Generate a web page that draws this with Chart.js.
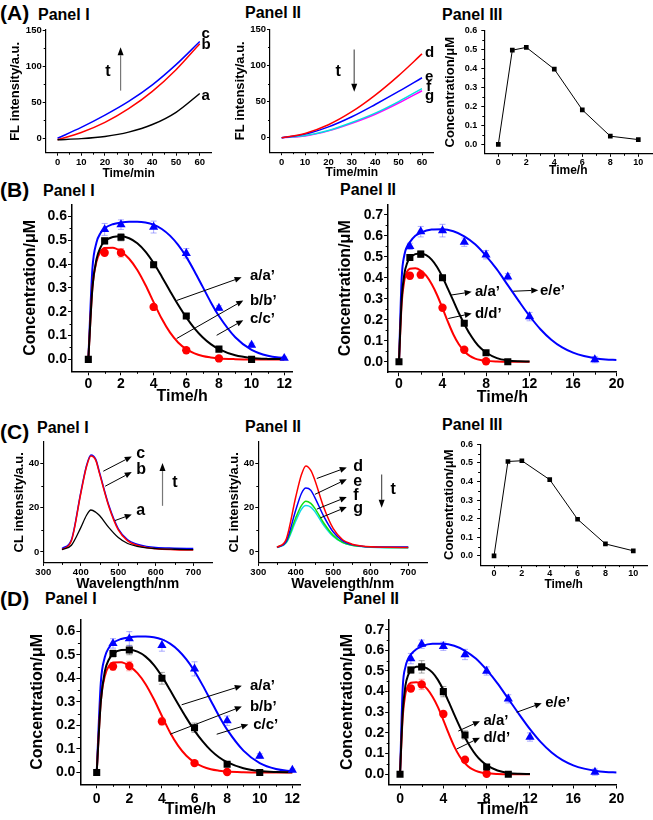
<!DOCTYPE html>
<html>
<head>
<meta charset="utf-8">
<script src="https://cdn.jsdelivr.net/npm/chart.js@4.4.1/dist/chart.umd.min.js"></script>
<style>
  body { margin: 0; background: #fff; width: 653px; height: 820px; position: relative; overflow: hidden;
         font-family: 'Liberation Sans', Arial, sans-serif; }
  .box { position: absolute; }
  .lbl { position: absolute; font-weight: bold; white-space: nowrap; line-height: 1; transform: translateY(-50%); color: #000; }
</style>
</head>
<body>
<div class="lbl" style="left:0;top:12px;font-size:21px">(A)</div>
<div class="lbl" style="left:38px;top:15px;font-size:16px">Panel I</div>
<div class="lbl" style="left:245px;top:13px;font-size:16px">Panel II</div>
<div class="lbl" style="left:442px;top:15px;font-size:16px">Panel III</div>
<div class="lbl" style="left:0;top:189px;font-size:21px">(B)</div>
<div class="lbl" style="left:43px;top:191px;font-size:16px">Panel I</div>
<div class="lbl" style="left:340px;top:190px;font-size:16px">Panel II</div>
<div class="lbl" style="left:0;top:431px;font-size:21px">(C)</div>
<div class="lbl" style="left:37px;top:428px;font-size:16px">Panel I</div>
<div class="lbl" style="left:245px;top:427px;font-size:16px">Panel II</div>
<div class="lbl" style="left:442px;top:425px;font-size:16px">Panel III</div>
<div class="lbl" style="left:0;top:598px;font-size:21px">(D)</div>
<div class="lbl" style="left:45px;top:599px;font-size:16px">Panel I</div>
<div class="lbl" style="left:343px;top:599px;font-size:16px">Panel II</div>

<script>
// ---- (A) fluorescence intensity vs time ----
const tMin = [0, 10, 20, 30, 40, 50, 60];
const flA = [-2, -0.5, 2.5, 8.5, 19, 36, 62];
const flB = [-2, 8, 22, 41, 65, 95, 131];
const flC = [0, 15, 32, 51, 74, 102, 134];
const flD = [0, 6, 18, 36, 59, 86, 116];
const flE = [0, 5, 15, 29, 46, 64, 83];
const flF = [0, 3, 10, 21, 34, 50, 68];
const flG = [0, 2.5, 9.5, 20, 32.5, 48, 65];

// ---- Panel III concentration profiles ----
const tH = [0, 1, 2, 4, 6, 8, 10];
const concA3 = [0, 0.497, 0.512, 0.397, 0.182, 0.043, 0.025];
const concC3 = [0, 0.508, 0.512, 0.41, 0.197, 0.064, 0.027];

// ---- (B)/(D) measured points ----
const tBlack = [0, 1, 2, 4, 6, 8, 10];
const tRed = [1, 2, 4, 6, 8];
const tBlue1 = [1, 2, 4, 6, 8, 10, 12];
const tBlue2 = [1, 2, 4, 6, 8, 10, 12, 18];

const bIBlack = [0, 0.497, 0.512, 0.397, 0.182, 0.043, 0];
const bIBlackErr = [0, 0.012, 0.015, 0.012, 0.01, 0.005, 0.004];
const bIRed = [0.447, 0.447, 0.22, 0.038, 0.004];
const bIRedErr = [0.012, 0.018, 0.01, 0.008, 0.004];
const bIBlue = [0.545, 0.565, 0.555, 0.445, 0.215, 0.06, 0.005];
const bIBlueErr = [0.025, 0.02, 0.025, 0.02, 0.01, 0.008, 0.005];

const bIIBlack = [0, 0.497, 0.513, 0.4, 0.183, 0.043, 0];
const bIIBlackErr = [0, 0.012, 0.015, 0.012, 0.01, 0.005, 0.004];
const bIIRed = [0.41, 0.415, 0.257, 0.057, 0.002];
const bIIRedErr = [0.015, 0.018, 0.01, 0.008, 0.004];
const bIIBlue = [0.55, 0.62, 0.625, 0.57, 0.51, 0.405, 0.215, 0.01];
const bIIBlueErr = [0.015, 0.025, 0.03, 0.02, 0.02, 0.015, 0.02, 0.015];

const dIBlack = [0, 0.505, 0.52, 0.4, 0.19, 0.035, 0];
const dIBlackErr = [0, 0.015, 0.02, 0.025, 0.02, 0.01, 0.004];
const dIRed = [0.45, 0.452, 0.217, 0.04, 0.002];
const dIRedErr = [0.015, 0.02, 0.015, 0.01, 0.005];
const dIBlue = [0.548, 0.568, 0.54, 0.44, 0.22, 0.07, 0.01];
const dIBlueErr = [0.02, 0.03, 0.025, 0.03, 0.02, 0.01, 0.005];

const dIIBlack = [0, 0.505, 0.52, 0.4, 0.19, 0.035, 0];
const dIIBlackErr = [0, 0.015, 0.03, 0.025, 0.02, 0.01, 0.004];
const dIIRed = [0.415, 0.435, 0.292, 0.07, 0.002];
const dIIRedErr = [0.015, 0.025, 0.015, 0.01, 0.005];
const dIIBlue = [0.56, 0.63, 0.62, 0.58, 0.5, 0.365, 0.18, 0.01];
const dIIBlueErr = [0.025, 0.02, 0.02, 0.025, 0.02, 0.02, 0.02, 0.015];

// ---- (B)/(D) fitted curves ----
const tFit = [0, 0.25, 0.5, 0.75, 1, 1.5, 2, 2.5, 3, 3.5, 4, 4.5, 5, 5.5, 6, 6.5, 7, 7.5, 8, 9, 10, 11, 12];
const tFitLong = [0, 0.25, 0.5, 0.75, 1, 1.5, 2, 3, 4, 5, 6, 7, 8, 9, 10, 11, 12, 13, 14, 15, 16, 17, 18, 19, 20];

const fitBIBlack = [0, 0.30, 0.42, 0.47, 0.495, 0.513, 0.516, 0.508, 0.487, 0.452, 0.404, 0.347, 0.287, 0.229, 0.176, 0.130, 0.093, 0.064, 0.043, 0.017, 0.006, 0.002, 0.001];
const fitBIRed = [0, 0.30, 0.41, 0.452, 0.467, 0.468, 0.452, 0.422, 0.375, 0.312, 0.240, 0.170, 0.113, 0.071, 0.043, 0.025, 0.014, 0.008, 0.004, 0.001, 0, 0, 0];
const fitBIBlue = [0, 0.38, 0.49, 0.53, 0.55, 0.567, 0.574, 0.577, 0.577, 0.574, 0.565, 0.547, 0.519, 0.480, 0.430, 0.370, 0.305, 0.240, 0.182, 0.093, 0.040, 0.015, 0.005];

const fitBIIBlack = [0, 0.30, 0.42, 0.47, 0.495, 0.513, 0.516, 0.508, 0.487, 0.452, 0.404, 0.347, 0.290, 0.232, 0.180, 0.133, 0.095, 0.065, 0.044, 0.017, 0.006, 0.002, 0.001];
const fitBIIRed = [0, 0.28, 0.39, 0.43, 0.443, 0.446, 0.435, 0.41, 0.37, 0.318, 0.255, 0.19, 0.13, 0.083, 0.05, 0.028, 0.015, 0.008, 0.004, 0.001, 0, 0, 0];
const fitBIIBlue = [0, 0.40, 0.51, 0.55, 0.57, 0.60, 0.615, 0.63, 0.632, 0.622, 0.598, 0.56, 0.505, 0.44, 0.365, 0.29, 0.218, 0.155, 0.105, 0.068, 0.043, 0.027, 0.017, 0.011, 0.008];

const fitDIBlack = [0, 0.30, 0.43, 0.48, 0.503, 0.52, 0.521, 0.513, 0.492, 0.457, 0.408, 0.35, 0.29, 0.232, 0.178, 0.132, 0.094, 0.065, 0.044, 0.018, 0.006, 0.002, 0.001];
const fitDIRed = [0, 0.30, 0.41, 0.452, 0.467, 0.468, 0.452, 0.422, 0.375, 0.312, 0.240, 0.170, 0.113, 0.071, 0.043, 0.025, 0.014, 0.008, 0.004, 0.001, 0, 0, 0];
const fitDIBlue = [0, 0.38, 0.49, 0.53, 0.55, 0.567, 0.574, 0.577, 0.577, 0.574, 0.565, 0.547, 0.519, 0.480, 0.430, 0.370, 0.305, 0.240, 0.182, 0.093, 0.040, 0.015, 0.005];

const fitDIIBlack = [0, 0.30, 0.43, 0.48, 0.503, 0.52, 0.521, 0.513, 0.492, 0.457, 0.408, 0.35, 0.29, 0.232, 0.178, 0.132, 0.094, 0.065, 0.044, 0.018, 0.006, 0.002, 0.001];
const fitDIIRed = [0, 0.28, 0.39, 0.43, 0.443, 0.446, 0.437, 0.413, 0.375, 0.325, 0.262, 0.196, 0.135, 0.087, 0.052, 0.029, 0.016, 0.008, 0.004, 0.001, 0, 0, 0];
const fitDIIBlue = [0, 0.42, 0.52, 0.56, 0.58, 0.605, 0.62, 0.632, 0.632, 0.622, 0.598, 0.56, 0.505, 0.44, 0.365, 0.29, 0.218, 0.155, 0.105, 0.068, 0.043, 0.027, 0.017, 0.011, 0.008];

// ---- (C) chemiluminescence spectra ----
const wl = [350, 375, 400, 415, 427, 440, 450, 475, 500, 525, 550, 575, 600, 650, 700];
const clA = [1, 3, 11, 16.5, 19, 18, 16.5, 11, 6.5, 3.8, 2.5, 1.8, 1.5, 1.2, 1];
const clB = [1, 5, 26.5, 38.5, 43.5, 41.5, 35.5, 20.5, 10, 5, 3, 2, 1.4, 1, 0.8];
const clC = [1.5, 5.5, 27, 39, 44, 42, 36, 21, 10.5, 5.5, 3.5, 2.5, 2, 1.7, 1.5];
const clD = [2, 6, 25, 35, 39, 37, 33, 20, 10.5, 5.5, 3.5, 2.7, 2.3, 2.1, 2];
const clE = [2, 5, 19, 26.5, 29, 28, 25, 16, 9, 5, 3.3, 2.6, 2.3, 2.2, 2.2];
const clF = [2, 4.5, 15.5, 21, 23, 22, 20, 13, 7.5, 4.3, 3, 2.5, 2.2, 2, 2];
const clG = [2, 4.2, 14, 19.3, 21, 20.3, 18.5, 12, 7, 4.2, 3, 2.4, 2.1, 1.9, 1.8];

// ---- tick labels ----
const ticksMin = [0, 10, 20, 30, 40, 50, 60];
const ticksFL = [0, 50, 100, 150];
const ticksH10 = [0, 2, 4, 6, 8, 10];
const ticksH12 = [0, 2, 4, 6, 8, 10, 12];
const ticksH20 = [0, 4, 8, 12, 16, 20];
const ticksC6 = [0, 0.1, 0.2, 0.3, 0.4, 0.5, 0.6];
const ticksC7 = [0, 0.1, 0.2, 0.3, 0.4, 0.5, 0.6, 0.7];
const ticksWl = [300, 400, 500, 600, 700];
const ticksCL = [0, 20, 40];

const FONT = "'Liberation Sans', Arial, sans-serif";
const RED = '#ff0000', BLUE = '#0000ff', BLACK = '#000000';

const xy = (xs, ys) => xs.map((x, i) => ({ x, y: ys[i] }));

function curve(xs, ys, color, width) {
    return {
        data: xy(xs, ys), showLine: true, borderColor: color, borderWidth: width,
        pointRadius: 0, cubicInterpolationMode: 'monotone', order: 2
    };
}

function dots(xs, ys, color, style, r, err, errColor) {
    return {
        data: xy(xs, ys), showLine: false, pointStyle: style, pointRadius: r,
        pointBackgroundColor: color, pointBorderColor: color, pointBorderWidth: 0,
        err, errColor, order: 1
    };
}

function polyline(xs, ys) {
    return {
        data: xy(xs, ys), showLine: true, borderColor: '#000', borderWidth: 1, tension: 0,
        pointStyle: 'rect', pointRadius: 3.3, pointBackgroundColor: '#000', pointBorderWidth: 0
    };
}

function drawArrow(ctx, x, y, a) {
    const x1 = x.getPixelForValue(a.from[0]), y1 = y.getPixelForValue(a.from[1]);
    const x2 = x.getPixelForValue(a.to[0]), y2 = y.getPixelForValue(a.to[1]);
    const ang = Math.atan2(y2 - y1, x2 - x1);
    const hl = a.head || 7, hw = 3;
    const bx = x2 - hl * Math.cos(ang), by = y2 - hl * Math.sin(ang);
    ctx.strokeStyle = a.color || '#000';
    ctx.lineWidth = a.width || 1;
    ctx.beginPath();
    ctx.moveTo(x1, y1);
    ctx.lineTo(bx, by);
    ctx.stroke();
    ctx.fillStyle = '#000';
    ctx.beginPath();
    ctx.moveTo(x2, y2);
    ctx.lineTo(bx + hw * Math.sin(ang), by - hw * Math.cos(ang));
    ctx.lineTo(bx - hw * Math.sin(ang), by + hw * Math.cos(ang));
    ctx.closePath();
    ctx.fill();
}

function extrasPlugin(cfg) {
    return {
        id: 'extras',
        beforeDatasetsDraw(chart) {
            const { ctx, scales: { x, y } } = chart;
            ctx.save();
            chart.data.datasets.forEach(ds => {
                if (!ds.err) return;
                ctx.strokeStyle = ds.errColor;
                ctx.lineWidth = 1;
                ds.data.forEach((p, i) => {
                    const e = ds.err[i];
                    if (!e) return;
                    const px = x.getPixelForValue(p.x);
                    const y1 = y.getPixelForValue(p.y + e), y2 = y.getPixelForValue(p.y - e);
                    ctx.beginPath();
                    ctx.moveTo(px, y1); ctx.lineTo(px, y2);
                    ctx.moveTo(px - 3, y1); ctx.lineTo(px + 3, y1);
                    ctx.moveTo(px - 3, y2); ctx.lineTo(px + 3, y2);
                    ctx.stroke();
                });
            });
            ctx.restore();
        },
        afterDraw(chart) {
            const { ctx, chartArea: a, scales: { x, y } } = chart;
            ctx.save();
            // minor ticks halfway between the labelled ones
            const mids = t => t.slice(1).map((v, i) => (v + t[i]) / 2);
            ctx.strokeStyle = '#000';
            ctx.lineWidth = 1;
            ctx.beginPath();
            mids(cfg.xTicks).forEach(v => {
                const p = Math.round(x.getPixelForValue(v)) + 0.5;
                ctx.moveTo(p, a.bottom); ctx.lineTo(p, a.bottom + cfg.minorLen);
            });
            mids(cfg.yTicks).forEach(v => {
                const p = Math.round(y.getPixelForValue(v)) + 0.5;
                ctx.moveTo(a.left, p); ctx.lineTo(a.left - cfg.minorLen, p);
            });
            ctx.stroke();

            (cfg.arrows || []).forEach(ar => drawArrow(ctx, x, y, ar));

            ctx.fillStyle = '#000';
            ctx.textBaseline = 'middle';
            (cfg.notes || []).forEach(n => {
                ctx.font = `bold ${n.size}px ${FONT}`;
                ctx.textAlign = n.align || 'left';
                ctx.fillText(n.text, x.getPixelForValue(n.x), y.getPixelForValue(n.y));
            });
            ctx.restore();
        }
    };
}

function plot(cfg) {
    const [bx, by, bw, bh] = cfg.box;
    const [L, T, R, B] = cfg.area;
    const wrap = document.createElement('div');
    wrap.className = 'box';
    wrap.style.cssText = `left:${bx}px;top:${by}px;width:${bw}px;height:${bh}px`;
    const cv = document.createElement('canvas');
    cv.width = bw;
    cv.height = bh;
    wrap.appendChild(cv);
    document.body.appendChild(wrap);

    const bold = s => ({ family: FONT, size: s, weight: 'bold' });
    const lh = cfg.titleSize * 1.2;
    const lhY = (cfg.yTitleSize || cfg.titleSize) * 1.2;

    new Chart(cv, {
        type: 'scatter',
        data: { datasets: cfg.datasets },
        options: {
            responsive: false,
            animation: false,
            events: [],
            layout: { padding: { left: 0, top: T - by, right: bx + bw - R, bottom: 0 }, autoPadding: false },
            plugins: { legend: { display: false }, tooltip: { enabled: false } },
            scales: {
                x: {
                    type: 'linear', min: cfg.xRange[0], max: cfg.xRange[1],
                    afterBuildTicks: s => { s.ticks = cfg.xTicks.map(v => ({ value: v })); },
                    afterFit: s => { s.height = by + bh - B; },
                    border: { color: '#000', width: cfg.axisWidth },
                    grid: { drawOnChartArea: false, color: '#000', tickLength: cfg.tickLen, lineWidth: 1 },
                    ticks: {
                        color: '#000', font: bold(cfg.tickSize), padding: cfg.xPad ?? 1,
                        maxRotation: 0, autoSkip: false, callback: v => v.toFixed(cfg.xDigits || 0)
                    },
                    title: {
                        display: true, text: cfg.xTitle, color: '#000', font: bold(cfg.titleSize),
                        padding: { top: 0, bottom: bh - (cfg.xTitleY - by) - lh / 2 }
                    }
                },
                y: {
                    type: 'linear', min: cfg.yRange[0], max: cfg.yRange[1],
                    afterBuildTicks: s => { s.ticks = cfg.yTicks.map(v => ({ value: v })); },
                    afterFit: s => { s.width = L - bx; },
                    border: { color: '#000', width: cfg.axisWidth },
                    grid: { drawOnChartArea: false, color: '#000', tickLength: cfg.tickLen, lineWidth: 1 },
                    ticks: {
                        color: '#000', font: bold(cfg.tickSize), padding: cfg.yPad ?? 1,
                        autoSkip: false, callback: v => v.toFixed(cfg.yDigits || 0)
                    },
                    title: {
                        display: true, text: cfg.yTitle, color: '#000', font: bold(cfg.yTitleSize || cfg.titleSize),
                        padding: { top: cfg.yTitleX - bx - lhY / 2, bottom: 0 }
                    }
                }
            }
        },
        plugins: [extrasPlugin(cfg)]
    });
}

// shared looks
const small = { tickSize: 9.5, titleSize: 12, yTitleSize: 13, tickLen: 3, minorLen: 2, axisWidth: 1.2 };
const large = { tickSize: 14, titleSize: 16, tickLen: 4, minorLen: 2.5, axisWidth: 1.5 };
const tArrow = { color: '#777', width: 1.2, head: 8 };

// (A) Panel I
plot({
    ...small, box: [0, 20, 215, 170], area: [45.7, 30, 211.6, 152.7],
    xRange: [-5, 65], yRange: [-20, 150], xTicks: ticksMin, yTicks: ticksFL,
    xTitle: 'Time/min', yTitle: 'FL intensity/a.u.', xTitleY: 174, yTitleX: 15,
    datasets: [
        curve(tMin, flA, BLACK, 1.5), curve(tMin, flB, RED, 1.5), curve(tMin, flC, BLUE, 1.5)
    ],
    arrows: [{ ...tArrow, from: [26.6, 66], to: [26.6, 126] }],
    notes: [
        { text: 't', x: 21.3, y: 92, size: 16, align: 'center' },
        { text: 'c', x: 60.7, y: 145, size: 15 },
        { text: 'b', x: 60.7, y: 129, size: 15 },
        { text: 'a', x: 60.7, y: 59, size: 15 }
    ]
});

// (A) Panel II
plot({
    ...small, box: [215, 20, 232, 170], area: [270, 29.3, 433.7, 152.2],
    xRange: [-5, 65], yRange: [-20, 150], xTicks: ticksMin, yTicks: ticksFL,
    xTitle: 'Time/min', yTitle: 'FL intensity/a.u.', xTitleY: 173, yTitleX: 240,
    datasets: [
        curve(tMin, flD, RED, 1.5), curve(tMin, flE, BLUE, 1.5),
        curve(tMin, flF, '#00e0e0', 1.5), curve(tMin, flG, '#ff00ff', 1.5)
    ],
    arrows: [{ ...tArrow, color: '#555', from: [31, 122], to: [31, 63.6] }],
    notes: [
        { text: 't', x: 24.2, y: 91.3, size: 16, align: 'center' },
        { text: 'd', x: 61.3, y: 116.8, size: 15 },
        { text: 'e', x: 61.3, y: 84, size: 15 },
        { text: 'f', x: 61.8, y: 70.5, size: 15 },
        { text: 'g', x: 61.3, y: 58, size: 15 }
    ]
});

// (A) Panel III
plot({
    ...small, box: [430, 20, 223, 170], area: [484.3, 30.7, 652.3, 153.8],
    xRange: [-1, 11], yRange: [-0.05, 0.6], xTicks: ticksH10, yTicks: ticksC6, yDigits: 1,
    tickSize: 9, yPad: 4, xPad: 0, xTitle: 'Time/h', yTitle: 'Concentration/\u03bcM', xTitleY: 171, yTitleX: 450.5,
    datasets: [polyline(tH, concA3)]
});

// (B) Panel I
plot({
    ...large, box: [0, 195, 320, 215], area: [72, 203.3, 292.4, 371.3],
    xRange: [-1, 12.5], yRange: [-0.05, 0.65], xTicks: ticksH12, yTicks: ticksC6, yDigits: 1,
    xTitle: 'Time/h', yTitle: 'Concentration/\u03bcM', xTitleY: 397, yTitleX: 31, xPad: 0,
    datasets: [
        dots(tBlack, bIBlack, BLACK, 'rect', 5, bIBlackErr, 'rgba(0,0,0,0.35)'),
        dots(tRed, bIRed, RED, 'circle', 4.2, bIRedErr, 'rgba(255,60,60,0.45)'),
        dots(tBlue1, bIBlue, BLUE, 'triangle', 5.3, bIBlueErr, 'rgba(90,90,255,0.5)'),
        curve(tFit, fitBIBlack, BLACK, 2), curve(tFit, fitBIRed, RED, 2), curve(tFit, fitBIBlue, BLUE, 2)
    ],
    arrows: [
        { from: [5.41, 0.247], to: [9.39, 0.344] },
        { from: [5.41, 0.0875], to: [9.49, 0.247] },
        { from: [7.86, 0.101], to: [9.49, 0.164] }
    ],
    notes: [
        { text: 'a/a\u2019', x: 9.9, y: 0.351, size: 15 },
        { text: 'b/b\u2019', x: 9.9, y: 0.247, size: 15 },
        { text: 'c/c\u2019', x: 9.9, y: 0.171, size: 15 }
    ]
});

// (B) Panel II
plot({
    ...large, box: [320, 195, 333, 215], area: [388.1, 203.8, 616.6, 372.2],
    xRange: [-1, 20], yRange: [-0.05, 0.75], xTicks: ticksH20, yTicks: ticksC7, yDigits: 1,
    xTitle: 'Time/h', yTitle: 'Concentration/\u03bcM', xTitleY: 398, yTitleX: 345.5, xPad: 0,
    datasets: [
        dots(tBlack, bIIBlack, BLACK, 'rect', 5, bIIBlackErr, 'rgba(0,0,0,0.35)'),
        dots(tRed, bIIRed, RED, 'circle', 4.2, bIIRedErr, 'rgba(255,60,60,0.45)'),
        dots(tBlue2, bIIBlue, BLUE, 'triangle', 5.3, bIIBlueErr, 'rgba(90,90,255,0.5)'),
        curve(tFit, fitBIIBlack, BLACK, 2), curve(tFit, fitBIIRed, RED, 2), curve(tFitLong, fitBIIBlue, BLUE, 2)
    ],
    arrows: [
        { from: [4.69, 0.317], to: [6.68, 0.333] },
        { from: [4.53, 0.206], to: [6.68, 0.23] },
        { from: [10.5, 0.336], to: [12.8, 0.341] }
    ],
    notes: [
        { text: 'a/a\u2019', x: 6.98, y: 0.333, size: 15 },
        { text: 'd/d\u2019', x: 6.98, y: 0.23, size: 15 },
        { text: 'e/e\u2019', x: 12.96, y: 0.34, size: 15 }
    ]
});

// (C) Panel I
plot({
    ...small, box: [0, 435, 215, 165], area: [43.3, 440, 212, 562.9],
    xRange: [300, 750], yRange: [-5, 50], xTicks: ticksWl, yTicks: ticksCL,
    tickSize: 9.5, titleSize: 14, yTitleSize: 13,
    xTitle: 'Wavelength/nm', yTitle: 'CL intensity/a.u.', xTitleY: 584, yTitleX: 19,
    datasets: [curve(wl, clA, BLACK, 1.3), curve(wl, clB, RED, 1.5), curve(wl, clC, BLUE, 1.5)],
    arrows: [
        { from: [460, 36.6], to: [536, 43.3] },
        { from: [465, 29.8], to: [536, 36.2] },
        { from: [491, 14.2], to: [536, 17] },
        { ...tArrow, from: [618, 20.9], to: [618, 40.3] }
    ],
    notes: [
        { text: 'c', x: 548, y: 44.7, size: 16 },
        { text: 'b', x: 548, y: 37.3, size: 16 },
        { text: 'a', x: 548, y: 18.6, size: 16 },
        { text: 't', x: 651, y: 31.3, size: 16, align: 'center' }
    ]
});

// (C) Panel II
plot({
    ...small, box: [215, 435, 225, 165], area: [258.3, 440, 427, 562.9],
    xRange: [300, 750], yRange: [-5, 50], xTicks: ticksWl, yTicks: ticksCL,
    tickSize: 9.5, titleSize: 14, yTitleSize: 13,
    xTitle: 'Wavelength/nm', yTitle: 'CL intensity/a.u.', xTitleY: 584, yTitleX: 234,
    datasets: [
        curve(wl, clD, RED, 1.5), curve(wl, clE, BLUE, 1.5),
        curve(wl, clF, '#10e010', 1.5), curve(wl, clG, '#10d8e8', 1.5)
    ],
    arrows: [
        { from: [456, 33.3], to: [536, 38.3] },
        { from: [451, 26.1], to: [536, 33] },
        { from: [456, 19.4], to: [536, 24.9] },
        { from: [465, 15.4], to: [536, 20.4] },
        { ...tArrow, color: '#555', from: [629, 35.1], to: [629, 20] }
    ],
    notes: [
        { text: 'd', x: 553, y: 38.8, size: 16 },
        { text: 'e', x: 553, y: 32.1, size: 16 },
        { text: 'f', x: 553, y: 25.4, size: 16 },
        { text: 'g', x: 553, y: 19.5, size: 16 },
        { text: 't', x: 660, y: 28.3, size: 16, align: 'center' }
    ]
});

// (C) Panel III
plot({
    ...small, box: [430, 435, 223, 165], area: [480.1, 442.7, 647.2, 565.1],
    xRange: [-1, 11], yRange: [-0.05, 0.6], xTicks: ticksH10, yTicks: ticksC6, yDigits: 1,
    tickSize: 9, yPad: 4, xPad: 0, xTitle: 'Time/h', yTitle: 'Concentration/\u03bcM', xTitleY: 585, yTitleX: 449,
    datasets: [polyline(tH, concC3)]
});

// (D) Panel I
plot({
    ...large, box: [0, 610, 320, 210], area: [80.4, 616.3, 300.5, 784.3],
    xRange: [-1, 12.5], yRange: [-0.05, 0.65], xTicks: ticksH12, yTicks: ticksC6, yDigits: 1,
    xTitle: 'Time/h', yTitle: 'Concentration/\u03bcM', xTitleY: 810, yTitleX: 37.5, xPad: 2,
    datasets: [
        dots(tBlack, dIBlack, BLACK, 'rect', 5, dIBlackErr, 'rgba(0,0,0,0.35)'),
        dots(tRed, dIRed, RED, 'circle', 4.2, dIRedErr, 'rgba(255,60,60,0.45)'),
        dots(tBlue1, dIBlue, BLUE, 'triangle', 5.3, dIBlueErr, 'rgba(90,90,255,0.5)'),
        curve(tFit, fitDIBlack, BLACK, 2), curve(tFit, fitDIRed, RED, 2), curve(tFit, fitDIBlue, BLUE, 2)
    ],
    arrows: [
        { from: [5.21, 0.2875], to: [8.9, 0.368] },
        { from: [4.5, 0.1625], to: [8.9, 0.28] },
        { from: [7.36, 0.1625], to: [9.3, 0.204] }
    ],
    notes: [
        { text: 'a/a\u2019', x: 9.4, y: 0.368, size: 15 },
        { text: 'b/b\u2019', x: 9.4, y: 0.28, size: 15 },
        { text: 'c/c\u2019', x: 9.6, y: 0.204, size: 15 }
    ]
});

// (D) Panel II
plot({
    ...large, box: [320, 610, 333, 210], area: [389.2, 616.6, 616.6, 784.5],
    xRange: [-1, 20], yRange: [-0.05, 0.75], xTicks: ticksH20, yTicks: ticksC7, yDigits: 1,
    xTitle: 'Time/h', yTitle: 'Concentration/\u03bcM', xTitleY: 810, yTitleX: 348, xPad: 2,
    datasets: [
        dots(tBlack, dIIBlack, BLACK, 'rect', 5, dIIBlackErr, 'rgba(0,0,0,0.35)'),
        dots(tRed, dIIRed, RED, 'circle', 4.2, dIIRedErr, 'rgba(255,60,60,0.45)'),
        dots(tBlue2, dIIBlue, BLUE, 'triangle', 5.3, dIIBlueErr, 'rgba(90,90,255,0.5)'),
        curve(tFit, fitDIIBlack, BLACK, 2), curve(tFit, fitDIIRed, RED, 2), curve(tFitLong, fitDIIBlue, BLUE, 2)
    ],
    arrows: [
        { from: [5.38, 0.209], to: [7.38, 0.257] },
        { from: [5.23, 0.122], to: [7.38, 0.177] },
        { from: [10.77, 0.3], to: [13.08, 0.344] }
    ],
    notes: [
        { text: 'a/a\u2019', x: 7.7, y: 0.257, size: 15 },
        { text: 'd/d\u2019', x: 7.7, y: 0.177, size: 15 },
        { text: 'e/e\u2019', x: 13.4, y: 0.344, size: 15 }
    ]
});
</script>
</body>
</html>
